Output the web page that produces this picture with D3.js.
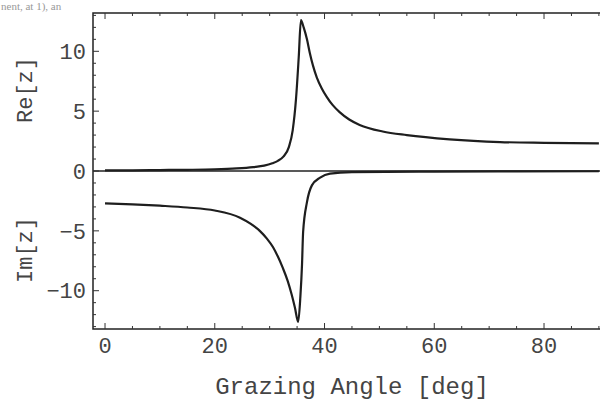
<!DOCTYPE html>
<html>
<head>
<meta charset="utf-8">
<script src="https://cdn.jsdelivr.net/npm/d3@7"></script>
<style>
  body { margin: 0; background: #fff; }
  svg { display: block; }
</style>
</head>
<body>
<svg id="chart" width="600" height="402"></svg>
<script>
// data
var reAngle = [0, 5, 10, 15, 20, 24, 27, 29, 30.5, 31.5, 32.5, 33.5, 34.2, 34.8, 35.3, 35.7, 36.2, 36.8, 37.3, 37.9, 38.6, 39.5, 40.4, 41.5, 42.8, 44.5, 46.4, 50.6, 55, 62.8, 72, 80, 90];
var reValue = [0.05, 0.06, 0.08, 0.1, 0.14, 0.22, 0.33, 0.45, 0.65, 0.85, 1.2, 2.0, 3.4, 6.0, 9.5, 12.6, 12.0, 11.0, 9.9, 8.8, 7.8, 6.9, 6.2, 5.5, 4.9, 4.3, 3.85, 3.3, 3.0, 2.65, 2.42, 2.35, 2.3];
var imAngle = [0, 5, 10, 15, 20, 24.6, 26.5, 28.2, 29.5, 30.6, 31.5, 32.4, 33.3, 34, 34.6, 35.2, 35.6, 35.9, 36.1, 36.8, 37.7, 39.2, 41, 45, 60, 75, 90];
var imValue = [-2.7, -2.78, -2.9, -3.05, -3.3, -3.9, -4.4, -5.0, -5.65, -6.35, -7.15, -8.1, -9.2, -10.3, -11.4, -12.6, -10.5, -7.8, -5.1, -2.6, -1.2, -0.55, -0.22, -0.1, -0.05, -0.03, -0.02];
var xTicks = [0, 20, 40, 60, 80];
var yTicks = [-10, -5, 0, 5, 10];

var svg = d3.select("#chart");
var font = "'Liberation Mono', 'DejaVu Sans Mono', monospace";

var x = d3.scaleLinear().domain([-2.19, 90.2]).range([93, 600]),
    y = d3.scaleLinear().domain([-13.2, 13.2]).range([329, 13]);

// leftover caption line at the very top
svg.append("text")
    .attr("x", 1).attr("y", 10)
    .style("font", "11px 'Liberation Serif', serif")
    .style("fill", "#999")
    .text("nent, at 1), an");

// frame
svg.append("rect")
    .attr("x", x.range()[0]).attr("y", y.range()[1])
    .attr("width", x.range()[1] - x.range()[0] + 2)
    .attr("height", y.range()[0] - y.range()[1])
    .style("fill", "none").style("stroke", "#222").style("stroke-width", 1.5);

// zero line
svg.append("line")
    .attr("x1", x.range()[0]).attr("x2", x.range()[1])
    .attr("y1", y(0)).attr("y2", y(0))
    .style("stroke", "#222").style("stroke-width", 1.5);

// ticks pointing inward on bottom/top and left
var ticks = svg.append("g").style("stroke", "#333").style("stroke-width", 1);
d3.range(0, 91, 5).forEach(function(t) {
  var len = t % 20 === 0 ? 6 : 3;
  ticks.append("line").attr("x1", x(t)).attr("x2", x(t))
      .attr("y1", y.range()[0]).attr("y2", y.range()[0] - len);
  ticks.append("line").attr("x1", x(t)).attr("x2", x(t))
      .attr("y1", y.range()[1]).attr("y2", y.range()[1] + len);
});
d3.range(-13, 14, 1).forEach(function(t) {
  var len = t % 5 === 0 ? 6 : 3;
  ticks.append("line").attr("x1", x.range()[0]).attr("x2", x.range()[0] + len)
      .attr("y1", y(t)).attr("y2", y(t));
});

// tick labels
svg.selectAll(".xlab").data(xTicks).enter().append("text")
    .attr("class", "xlab")
    .attr("x", function(d) { return x(d); })
    .attr("y", 353)
    .style("font", "22px " + font)
    .style("fill", "#444")
    .style("text-anchor", "middle")
    .text(function(d) { return d; });

svg.selectAll(".ylab").data(yTicks).enter().append("text")
    .attr("class", "ylab")
    .attr("x", 86)
    .attr("y", function(d) { return y(d); })
    .attr("dy", "0.35em")
    .style("font", "22px " + font)
    .style("fill", "#444")
    .style("text-anchor", "end")
    .text(function(d) { return d < 0 ? "\u2212" + Math.abs(d) : d; });

// axis titles
svg.append("text")
    .attr("x", 352).attr("y", 394)
    .style("font", "24px " + font)
    .style("fill", "#444")
    .style("text-anchor", "middle")
    .text("Grazing Angle [deg]");

svg.append("text")
    .attr("transform", "translate(32,90) rotate(-90)")
    .style("font", "22px " + font)
    .style("fill", "#444")
    .style("text-anchor", "middle")
    .text("Re[z]");

svg.append("text")
    .attr("transform", "translate(32,250) rotate(-90)")
    .style("font", "22px " + font)
    .style("fill", "#444")
    .style("text-anchor", "middle")
    .text("Im[z]");

// curves
var line = d3.line()
    .x(function(d) { return x(d[0]); })
    .y(function(d) { return y(d[1]); })
    .curve(d3.curveMonotoneX);

svg.append("path")
    .datum(d3.zip(reAngle, reValue))
    .attr("d", line)
    .style("fill", "none").style("stroke", "#1e1e1e").style("stroke-width", 2.2);

svg.append("path")
    .datum(d3.zip(imAngle, imValue))
    .attr("d", line)
    .style("fill", "none").style("stroke", "#1e1e1e").style("stroke-width", 2.2);
</script>
</body>
</html>
